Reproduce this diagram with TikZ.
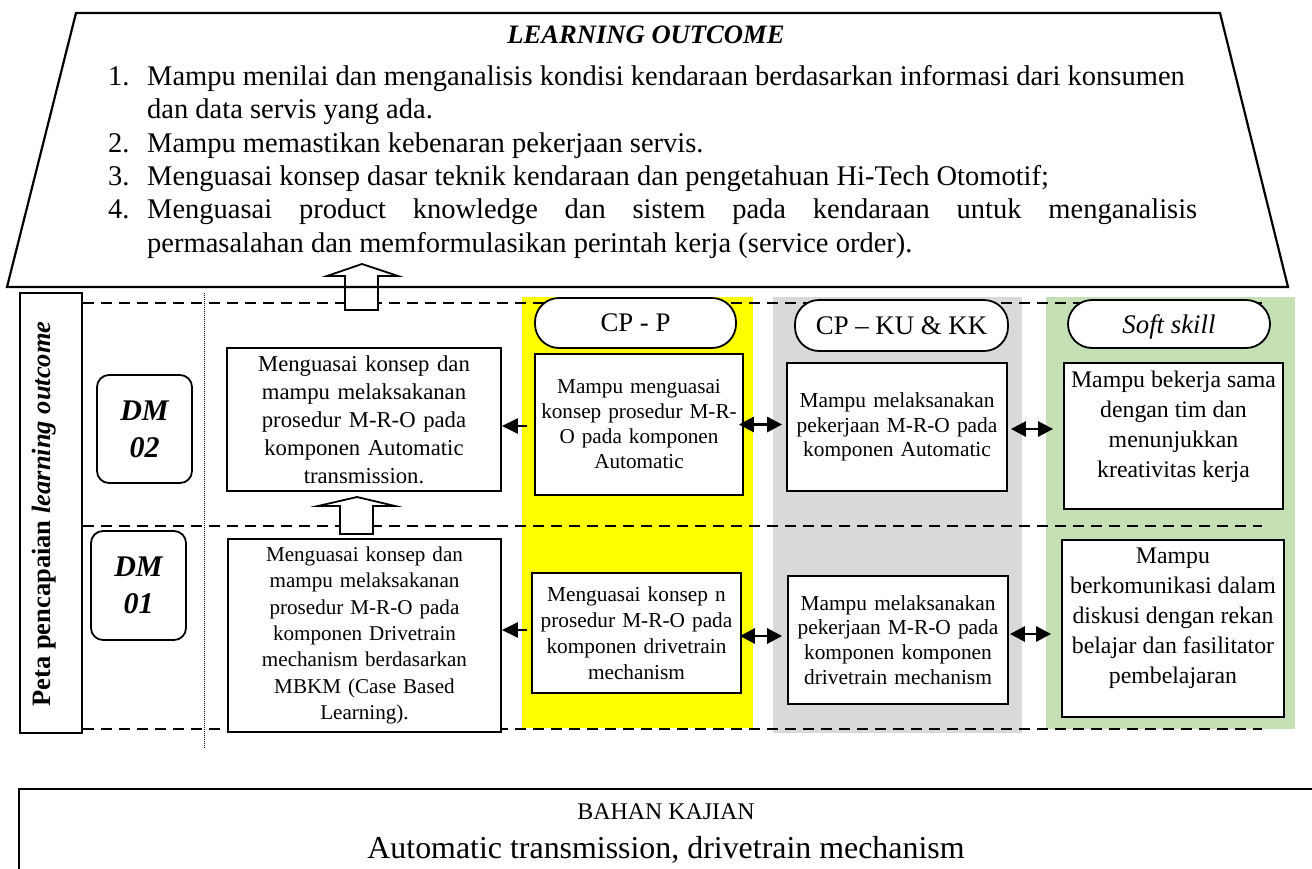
\documentclass[tikz,border=0pt]{standalone}
\usepackage{fontspec}
\setmainfont{Liberation Serif}
\usetikzlibrary{arrows.meta}
\definecolor{ylw}{HTML}{FFFF00}
\definecolor{gry}{HTML}{D9D9D9}
\definecolor{grn}{HTML}{C5E0B4}
\newcommand{\fsz}[2]{\fontsize{#1}{#2}\selectfont}
\begin{document}
\begin{tikzpicture}[x=1pt,y=-1pt,
  bx/.style={draw, line width=1.8pt, fill=white, inner sep=0pt, align=center},
  pill/.style={draw, line width=1.8pt, fill=white, rounded corners=24pt, inner sep=0pt, text depth=0pt, font=\fsz{26.8}{30}},
  dmbox/.style={draw, line width=1.8pt, fill=white, rounded corners=12pt, inner sep=0pt, align=center, font=\bfseries\itshape\fsz{30}{37}},
  dsh/.style={dash pattern=on 11pt off 7pt, line width=1.5pt},
  arr/.style={line width=2.8pt, -{Triangle[length=16pt,width=15pt]}},
  darr/.style={line width=2.8pt, {Triangle[length=15pt,width=15pt]}-{Triangle[length=15pt,width=15pt]}},
  blk/.style={draw, line width=1.8pt, fill=white, line join=miter},
  lst/.style={inner sep=0pt, anchor=base west, font=\fsz{28.5}{33}}
]
\useasboundingbox (0,0) rectangle (1312,868);
\clip (0,0) rectangle (1312,868);

% coloured panels
\fill[ylw] (522,297) rectangle (753,728);
\fill[gry] (773,297) rectangle (1022,733);
\fill[grn] (1046,297) rectangle (1295,729);

% dashed separators
\draw[dsh] (83,303) -- (1262,303);
\draw[dsh] (83,526) -- (1262,526);
\draw[dsh] (83,729) -- (1262,729);
\draw[line width=0.6pt, dash pattern=on 1pt off 1pt] (204,293) -- (204,748);

% left vertical label
\node[draw, line width=1.8pt, minimum width=62pt, minimum height=440pt, inner sep=0pt] (peta) at (51,513) {};
\node[rotate=90, inner sep=0pt, font=\bfseries\fsz{26.5}{30}] (petat) at (44,514) {Peta pencapaian \textit{learning outcome}};

% DM boxes
\node[dmbox, minimum width=95pt, minimum height=108pt] (dm2) at (144.5,429) {DM\\02};
\node[dmbox, minimum width=95pt, minimum height=109pt] (dm1) at (138.5,585.5) {DM\\01};

% main boxes
\node[bx, minimum width=274pt, minimum height=143pt, text width=268pt, font=\fsz{22.7}{28}] (m2) at (364,419.5)
  {Menguasai konsep dan\\mampu melaksakanan\\prosedur M-R-O pada\\komponen Automatic\\transmission.};
\node[bx, minimum width=273pt, minimum height=193pt, text width=267pt, font=\fsz{21.1}{26.3}] (m1) at (364.5,635.5)
  {Menguasai konsep dan\\mampu melaksakanan\\prosedur M-R-O pada\\komponen Drivetrain\\mechanism berdasarkan\\MBKM (Case Based\\Learning).};

% CP - P
\node[pill, minimum width=201pt, minimum height=50pt] (cpp) at (635.5,323) {CP - P};
\node[bx, minimum width=208pt, minimum height=141pt, text width=204pt, font=\fsz{21.2}{25}] (p2) at (639,424.5)
  {Mampu menguasai\\konsep prosedur M-R-\\O pada komponen\\Automatic};
\node[bx, minimum width=209pt, minimum height=120pt, text width=205pt, font=\fsz{21.3}{26}] (p1) at (636.5,633)
  {Menguasai konsep n\\prosedur M-R-O pada\\komponen drivetrain\\mechanism};

% CP - KU & KK
\node[pill, minimum width=213pt, minimum height=51pt] (cpk) at (901.5,325.5) {CP – KU \& KK};
\node[bx, minimum width=220pt, minimum height=128pt, text width=216pt, font=\fsz{21.4}{24.7}] (k2) at (897,427)
  {Mampu melaksanakan\\pekerjaan M-R-O pada\\komponen Automatic};
\node[bx, minimum width=220pt, minimum height=128pt, text width=216pt, font=\fsz{21.4}{24.7}] (k1) at (898,640)
  {Mampu melaksanakan\\pekerjaan M-R-O pada\\komponen komponen\\drivetrain mechanism};

% Soft skill
\node[pill, minimum width=202pt, minimum height=48pt] (cps) at (1169,324) {\textit{Soft skill}};
\node[bx, minimum width=219pt, minimum height=146pt] (s2) at (1173.5,436) {};
\node[align=center, inner sep=0pt, font=\fsz{23.8}{30}] (s2t) at (1173.5,426.5)
  {Mampu bekerja sama\\dengan tim dan\\menunjukkan\\kreativitas kerja};
\node[bx, minimum width=222pt, minimum height=177pt] (s1) at (1173,628.5) {};
\node[align=center, inner sep=0pt, font=\fsz{23.8}{30}] (s1t) at (1173,618)
  {Mampu\\berkomunikasi dalam\\diskusi dengan rekan\\belajar dan fasilitator\\pembelajaran};

% connector start points
\coordinate (a1) at ([xshift=-7pt,yshift=-1.5pt]p2.west);
\coordinate (a2) at ([xshift=-4pt,yshift=3pt]p1.west);
\coordinate (b1) at ([xshift=-5pt]p2.east);
\coordinate (b2) at ([xshift=-2pt,yshift=-3pt]p1.east);
\coordinate (c1) at ([xshift=3pt,yshift=-2pt]k2.east);
\coordinate (c2) at ([xshift=1pt,yshift=6pt]k1.east);
\coordinate (b1e) at ([xshift=-4pt]k2.west);
\coordinate (b2e) at ([xshift=-5pt]k1.west);
\coordinate (c1e) at ([xshift=-10pt]s2.west);
\coordinate (c2e) at ([xshift=-10pt]s1.west);

% connectors
\draw[arr] (a1) -- (a1 -| m2.east);
\draw[arr] (a2) -- (a2 -| m1.east);
\draw[darr] (b1) -- (b1 -| b1e);
\draw[darr] (b2) -- (b2 -| b2e);
\draw[darr] (c1) -- (c1 -| c1e);
\draw[darr] (c2) -- (c2 -| c2e);

% block arrows
\draw[blk] (345,310) -- (345,276) -- (327,276) -- (362,264) -- (398,276) -- (378,276) -- (378,310) -- cycle;
\draw[blk] (340,534) -- (340,506) -- (318,506) -- (357,497) -- (395,506) -- (373,506) -- (373,534) -- cycle;

% learning outcome trapezoid
\draw[line width=2.2pt, line join=miter] (76,13) -- (1220,13) -- (1288,287) -- (7,287) -- cycle;
\node[anchor=base, inner sep=0pt, font=\bfseries\itshape\fsz{26.6}{30}] (lotitle) at (646,43) {LEARNING OUTCOME};
\node[lst] (n1) at (108,85) {1.};
\node[lst] (l1a) at (147,85) {Mampu menilai dan menganalisis kondisi kendaraan berdasarkan informasi dari konsumen};
\node[lst] (l1b) at (147,118.5) {dan data servis yang ada.};
\node[lst] (n2) at (108,152) {2.};
\node[lst] (l2) at (147,152) {Mampu memastikan kebenaran pekerjaan servis.};
\node[lst] (n3) at (108,185) {3.};
\node[lst] (l3) at (147,185) {Menguasai konsep dasar teknik kendaraan dan pengetahuan Hi-Tech Otomotif;};
\node[lst] (n4) at (108,218.5) {4.};
\node[lst] (l4a) at (147,218.5) {\hbox to 1050pt{Menguasai\hfill product\hfill knowledge\hfill dan\hfill sistem\hfill pada\hfill kendaraan\hfill untuk\hfill menganalisis}};
\node[lst] (l4b) at (147,252) {permasalahan dan memformulasikan perintah kerja (service order).};

% bahan kajian
\node[draw, line width=2pt, anchor=north west, minimum width=1330pt, minimum height=100pt, inner sep=0pt] (bahan) at (18,788) {};
\node[anchor=base, inner sep=0pt, font=\fsz{23.9}{28}] (bk1) at (666,819) {BAHAN KAJIAN};
\node[anchor=base, inner sep=0pt, font=\fsz{31.9}{36}] (bk2) at (666,858) {Automatic transmission, drivetrain mechanism};
\end{tikzpicture}
\end{document}
